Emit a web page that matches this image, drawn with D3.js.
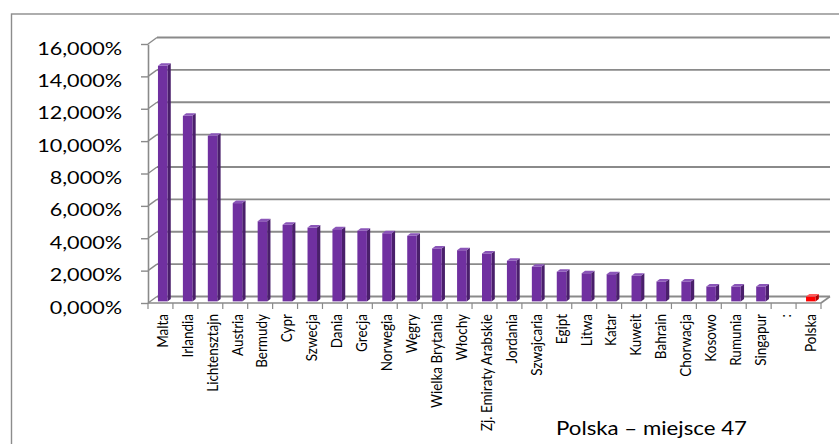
<!DOCTYPE html>
<html>
<head>
<meta charset="utf-8">
<script src="https://cdn.jsdelivr.net/npm/d3@7"></script>
<style>
  body { margin: 0; background: #fff; }
  text { font-family: Lato, "Open Sans", sans-serif; }
</style>
</head>
<body>
<div id="chart"></div>
<script>
const categories = ["Malta", "Irlandia", "Lichtensztajn", "Austria", "Bermudy", "Cypr", "Szwecja",
  "Dania", "Grecja", "Norwegia", "Węgry", "Wielka Brytania", "Włochy", "Zj. Emiraty Arabskie",
  "Jordania", "Szwajcaria", "Egipt", "Litwa", "Katar", "Kuweit", "Bahrain", "Chorwacja",
  "Kosowo", "Rumunia", "Singapur", ":", "Polska"];
const values = [14.55, 11.46, 10.23, 6.07, 4.95, 4.73, 4.56, 4.46, 4.36, 4.21, 4.05, 3.27, 3.16,
  2.96, 2.51, 2.14, 1.83, 1.74, 1.68, 1.58, 1.23, 1.23, 0.92, 0.92, 0.92, null, 0.3];
const highlighted = ["Polska"];
const yTicks = [0, 2, 4, 6, 8, 10, 12, 14, 16];
const note = "Polska – miejsce 47";

const width = 839, height = 444;
// depth of the 3d wall, and of the columns
const wall = {dx: 9, dy: -6.5},
    depth = 0.25,
    col = {w: 9.5, dx: 3.3, dy: -2.5};

const svg = d3.select("#chart")
  .append("svg")
    .attr("width", width)
    .attr("height", height);

svg.append("rect")
    .attr("x", 11.5).attr("y", 14)
    .attr("width", 840).attr("height", 440)
    .attr("fill", "#fff")
    .attr("stroke", "#8c8c8c")
    .attr("stroke-width", 1.4);

const y = d3.scaleLinear()
    .domain([0, 16])
    .range([303, 44]);

const x = d3.scaleBand()
    .domain(categories)
    .range([148, 821]);

const gridColor = "#8a8a8a";

// back wall gridlines and side wall diagonals
const grid = svg.append("g").attr("class", "grid");
yTicks.forEach(t => {
  grid.append("line")
      .attr("x1", x.range()[0] + wall.dx).attr("x2", x.range()[1] + wall.dx)
      .attr("y1", y(t) + wall.dy).attr("y2", y(t) + wall.dy)
      .attr("stroke", gridColor).attr("stroke-width", 1.8);
  grid.append("line")
      .attr("x1", x.range()[0]).attr("x2", x.range()[0] + wall.dx)
      .attr("y1", y(t)).attr("y2", y(t) + wall.dy)
      .attr("stroke", gridColor).attr("stroke-width", 1.4);
});

// floor front edge + right edge
grid.append("line")
    .attr("x1", x.range()[0]).attr("x2", x.range()[1])
    .attr("y1", y(0)).attr("y2", y(0))
    .attr("stroke", gridColor).attr("stroke-width", 1.6);
grid.append("line")
    .attr("x1", x.range()[1]).attr("x2", x.range()[1] + wall.dx)
    .attr("y1", y(0)).attr("y2", y(0) + wall.dy)
    .attr("stroke", gridColor).attr("stroke-width", 1.6);

// category ticks at band edges
const edges = categories.map(c => x(c)).concat([x.range()[1]]);
grid.selectAll(".xtick")
    .data(edges)
    .enter()
    .append("line")
    .attr("x1", d => d).attr("x2", d => d)
    .attr("y1", y(0)).attr("y2", y(0) + 6)
    .attr("stroke", gridColor).attr("stroke-width", 1.2);

// y axis
const fmt = d => d3.format(".3f")(d).replace(".", ",") + "%";
const yAxis = svg.append("g")
    .attr("transform", "translate(" + x.range()[0] + ",0)")
    .call(d3.axisLeft(y).tickValues(yTicks).tickSize(7).tickSizeOuter(0).tickFormat(fmt));
yAxis.select(".domain").attr("stroke", gridColor).attr("stroke-width", 1.6);
yAxis.selectAll(".tick line").attr("stroke", gridColor).attr("stroke-width", 1.4);
yAxis.selectAll(".tick text")
    .attr("x", null).attr("dy", null)
    .attr("transform", "translate(-26,10) scale(1.2,1)")
    .style("font-size", "18px")
    .attr("fill", "#000");

// columns
const data = categories.map((c, i) => ({c: c, v: values[i]})).filter(d => d.v != null);
const colX = d => x(d.c) + x.bandwidth() / 2 + depth * wall.dx - col.w / 2;
const colTop = d => y(d.v) + depth * wall.dy;
const colBot = y(0) + depth * wall.dy;
const isHi = d => highlighted.includes(d.c);

const bars = svg.selectAll(".bar")
    .data(data)
    .enter()
    .append("g")
    .attr("class", "bar");

bars.append("polygon")
    .attr("points", d => {
      const x0 = colX(d) + col.w, t = colTop(d);
      return [[x0, t], [x0 + col.dx, t + col.dy], [x0 + col.dx, colBot + col.dy], [x0, colBot]].join(" ");
    })
    .attr("fill", d => isHi(d) ? "#b00000" : "#4a1f6b");

bars.append("rect")
    .attr("x", colX)
    .attr("y", colTop)
    .attr("width", col.w)
    .attr("height", d => colBot - colTop(d))
    .attr("fill", d => isHi(d) ? "#ff0000" : "#7030a0");

bars.append("polygon")
    .attr("points", d => {
      const x0 = colX(d), t = colTop(d);
      return [[x0, t], [x0 + col.dx, t + col.dy], [x0 + col.w + col.dx, t + col.dy], [x0 + col.w, t]].join(" ");
    })
    .attr("fill", d => isHi(d) ? "#ff5a5a" : "#8a55b8");

// category labels
svg.selectAll(".xlabel")
    .data(categories)
    .enter()
    .append("text")
    .attr("class", "xlabel")
    .attr("transform", d => "translate(" + (x(d) + x.bandwidth() / 2 + 2) + ",314) rotate(-90) scale(1,1.12)")
    .attr("dy", "0.35em")
    .attr("text-anchor", "end")
    .style("font-size", "13.5px")
    .attr("fill", "#000")
    .text(d => d);

svg.append("text")
    .attr("x", 556)
    .attr("y", 435)
    .attr("textLength", 191)
    .attr("lengthAdjust", "spacingAndGlyphs")
    .style("font-size", "20px")
    .attr("fill", "#000")
    .text(note);
</script>
</body>
</html>
